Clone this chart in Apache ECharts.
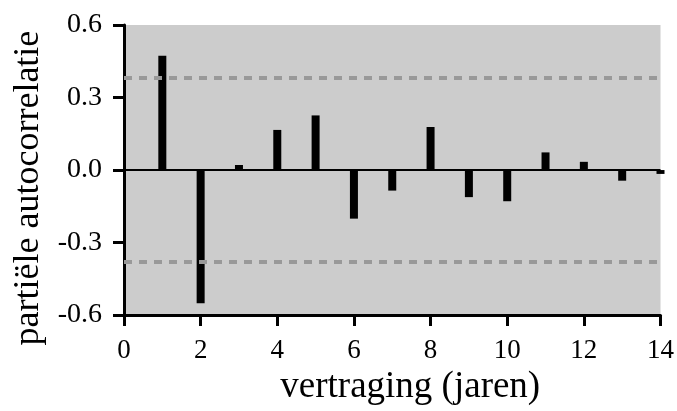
<!DOCTYPE html>
<html>
<head>
<meta charset="utf-8">
<script src="https://cdn.jsdelivr.net/npm/echarts@6/dist/echarts.min.js"></script>
<style>
  html, body { margin: 0; padding: 0; background: #fff; }
  #chart { width: 677px; height: 411px; }
</style>
</head>
<body>
<div id="chart"></div>
<script>
// vertraging (lags) en partiële autocorrelatie
var lags = [1, 2, 3, 4, 5, 6, 7, 8, 9, 10, 11, 12, 13, 14];
var pacf = [0.473, -0.551, 0.021, 0.166, 0.226, -0.201, -0.085, 0.178, -0.112, -0.129, 0.073, 0.034, -0.044, -0.016];
var bounds = [0.378, -0.378];
var xTicks = [0, 14, 2];
var yTicks = [-0.6, 0.6, 0.3];

var serif = '"Liberation Serif", "DejaVu Serif", serif';
var myChart = echarts.init(document.getElementById('chart'));

var option = {
  animation: false,
  grid: {
    left: 124, right: 14, top: 25, bottom: 95,
    show: true, backgroundColor: '#cccccc', borderWidth: 0
  },
  xAxis: {
    type: 'value',
    min: xTicks[0], max: xTicks[1], interval: xTicks[2],
    name: 'vertraging (jaren)',
    nameLocation: 'middle',
    nameGap: 45,
    nameTextStyle: { fontFamily: serif, fontSize: 37, color: '#000', padding: [0, 0, 0, 36] },
    axisLine: { onZero: false, lineStyle: { color: '#000', width: 3 } },
    axisTick: { show: true, inside: false, length: 11, lineStyle: { color: '#000', width: 3 } },
    axisLabel: { margin: 22, fontFamily: serif, fontSize: 27, color: '#000' },
    splitLine: { show: false }
  },
  yAxis: {
    type: 'value',
    min: yTicks[0], max: yTicks[1], interval: yTicks[2],
    name: 'partiële autocorrelatie',
    nameLocation: 'middle',
    nameGap: 72,
    nameTextStyle: { fontFamily: serif, fontSize: 36, color: '#000', padding: [0, 36, 0, 0] },
    axisLine: { show: true, onZero: false, lineStyle: { color: '#000', width: 3 } },
    axisTick: { show: true, inside: false, length: 11, lineStyle: { color: '#000', width: 3 } },
    axisLabel: {
      margin: 22, fontFamily: serif, fontSize: 28, color: '#000',
      formatter: function (v) { return v.toFixed(1); }
    },
    splitLine: { show: false }
  },
  series: [{
    type: 'bar',
    barWidth: 8,
    itemStyle: { color: '#000' },
    data: lags.map(function (l, i) { return [l, pacf[i]]; }),
    markLine: {
      silent: true,
      symbol: ['none', 'none'],
      label: { show: false },
      data: [
        { yAxis: 0, lineStyle: { color: '#000', width: 2, type: 'solid' } },
        { yAxis: bounds[0], lineStyle: { color: '#999', width: 4, type: [8, 7] } },
        { yAxis: bounds[1], lineStyle: { color: '#999', width: 4, type: [8, 7] } }
      ]
    }
  }]
};

myChart.setOption(option);
window.addEventListener('resize', function () {
  myChart.resize();
});
</script>
</body>
</html>
